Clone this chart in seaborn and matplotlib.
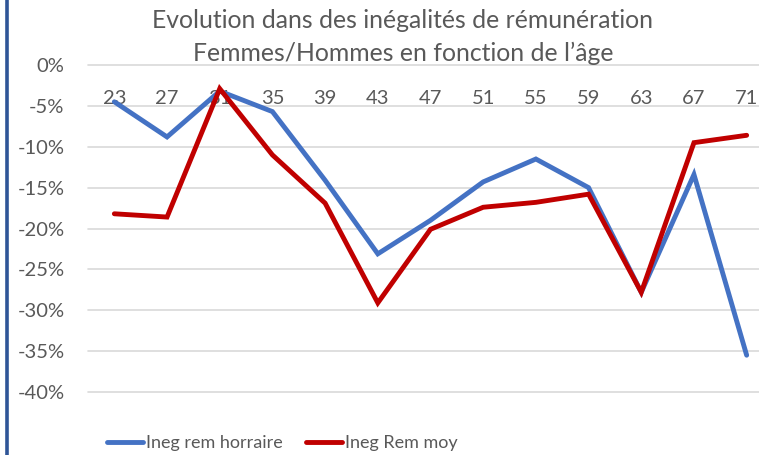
import matplotlib
matplotlib.use("Agg")
import matplotlib.pyplot as plt
from matplotlib.lines import Line2D
import seaborn as sns
import pandas as pd

# ages (categories) and the two series, in %
ages = [23, 27, 31, 35, 39, 43, 47, 51, 55, 59, 63, 67, 71]
ineg_horaire = [-4.5, -8.8, -3.2, -5.7, -14.1, -23.1, -19.0, -14.3, -11.5, -15.0, -27.8, -13.4, -35.5]
ineg_moy = [-18.2, -18.6, -2.9, -11.0, -16.9, -29.1, -20.1, -17.4, -16.8, -15.8, -27.8, -9.5, -8.6]
series_names = ["Ineg rem horraire", "Ineg Rem moy"]
yticks = [0, -5, -10, -15, -20, -25, -30, -35, -40]
title_lines = ["Evolution dans des inégalités de rémunération",
               "Femmes/Hommes en fonction de l\u2019âge"]

df = pd.DataFrame({
    "age": ages * 2,
    "val": ineg_horaire + ineg_moy,
    "serie": [series_names[0]] * len(ages) + [series_names[1]] * len(ages),
})

sns.set_style("white")
plt.rcParams["font.family"] = ["Lato", "DejaVu Sans"]
grey = "#595959"
colors = {series_names[0]: "#4472C4", series_names[1]: "#C00000"}
lw = 3.5

fig = plt.figure(figsize=(7.59, 4.55), dpi=100)
# plot area runs a bit past the right edge (the original is cropped)
ax = fig.add_axes([88 / 759, 63 / 455, 685 / 759, 327 / 455])

sns.lineplot(data=df, x="age", y="val", hue="serie", palette=colors,
             linewidth=lw, ax=ax, legend=False, zorder=3)
for ln in ax.lines:
    ln.set_solid_capstyle("round")
    ln.set_solid_joinstyle("miter")

ax.set_xlim(21, 73)
ax.set_ylim(-40, 0)
ax.set_yticks(yticks)
ax.set_yticklabels([f"{v}%" for v in yticks])
ax.set_xticks(ages)
ax.set_xticklabels([str(a) for a in ages])
ax.grid(axis="y", color="#D9D9D9", linewidth=1.2)
for gl in ax.get_ygridlines():
    gl.set_clip_on(False)
ax.grid(axis="x", visible=False)
for s in ax.spines.values():
    s.set_visible(False)
ax.tick_params(axis="y", length=0, pad=17, labelsize=14.5, labelcolor=grey)
ax.tick_params(axis="x", length=0, bottom=False, labelbottom=False,
               top=False, labeltop=True, pad=-30, labelsize=14.5, labelcolor=grey)
ax.set_xlabel("")
ax.set_ylabel("")

fig.text(403 / 759, 1 - 21 / 455, title_lines[0], ha="center", va="center",
         fontsize=17.8, color=grey)
fig.text(403 / 759, 1 - 53 / 455, title_lines[1], ha="center", va="center",
         fontsize=17.8, color=grey)

handles = [Line2D([], [], color=colors[n], linewidth=lw, solid_capstyle="round") for n in series_names]
fig.legend(handles, series_names, loc="center", bbox_to_anchor=(282 / 759, 1 - 443 / 455),
           ncol=2, frameon=False, fontsize=13, labelcolor=grey, handlelength=2.0,
           handletextpad=0.15, columnspacing=1.3, borderpad=0, borderaxespad=0)

# dark blue border on the left
fig.add_artist(Line2D([6.5 / 759, 6.5 / 759], [0, 1], color="#2F5597", linewidth=2.6,
                      transform=fig.transFigure))

fig.savefig("out.png", dpi=100)
